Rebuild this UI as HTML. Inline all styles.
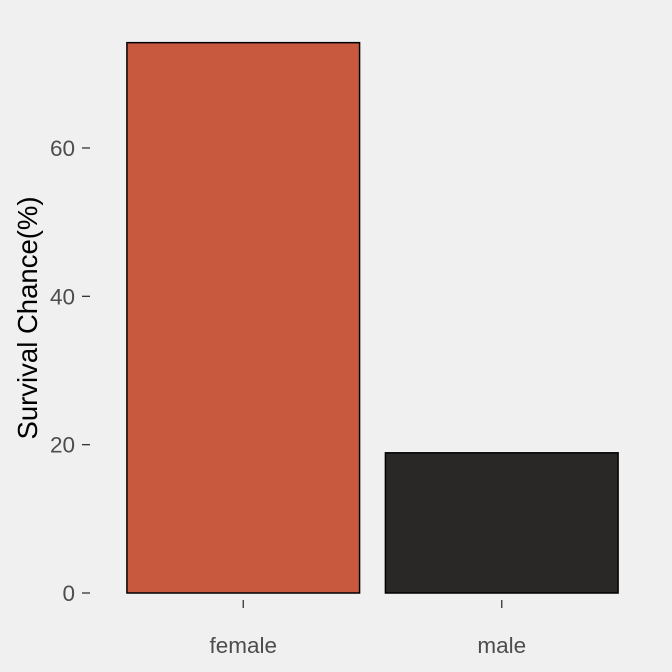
<!DOCTYPE html>
<html><head><meta charset="utf-8"><style>
body{margin:0;background:#f0f0f0;}
svg{display:block;font-family:"Liberation Sans",Arial,sans-serif;}
</style></head><body>
<svg id="chart" width="672" height="672">
<rect width="672" height="672" fill="#f0f0f0"/>
<g id="plot"></g>
<text x="37" y="318" transform="rotate(-90 37 318)" text-anchor="middle" font-size="27.5" fill="#000">Survival Chance(%)</text>
</svg>
<script>
const categories=["female","male"];
const values=[74.2,18.9];
const yTicks=[0,20,40,60];
const colors=["#c8583e","#2a2727"];
const ns="http://www.w3.org/2000/svg";
const g=document.getElementById("plot");
const y0=593, pxPerUnit=7.417;
const y=v=>y0-v*pxPerUnit;
const left=114, band=258.5;
const x=i=>left+band*(i+0.5);
function mk(t,a){const e=document.createElementNS(ns,t);for(const k in a)e.setAttribute(k,a[k]);g.appendChild(e);return e;}
yTicks.forEach(t=>{
 const l=mk("line",{x1:82,x2:90,y1:y(t),y2:y(t),stroke:"#333","stroke-width":1.3});
 
 
 const tx=mk("text",{x:75,y:y(t)+8,"text-anchor":"end","font-size":22.5,fill:"#4d4d4d"});
 tx.textContent=t;
 
 
});
categories.forEach((c,i)=>{
 const w=band*0.9;
 const r=mk("rect",{x:x(i)-w/2,y:y(values[i]),width:w,height:y0-y(values[i]),fill:colors[i],stroke:"#000","stroke-width":1.5});
 
 
 const l=mk("line",{x1:x(i),x2:x(i),y1:600,y2:608,stroke:"#333","stroke-width":1.3});
 
 
 const tx=mk("text",{x:x(i),y:653,"text-anchor":"middle","font-size":22.5,fill:"#4d4d4d"});
 tx.textContent=c;
 
 
});
</script>
</body></html>
